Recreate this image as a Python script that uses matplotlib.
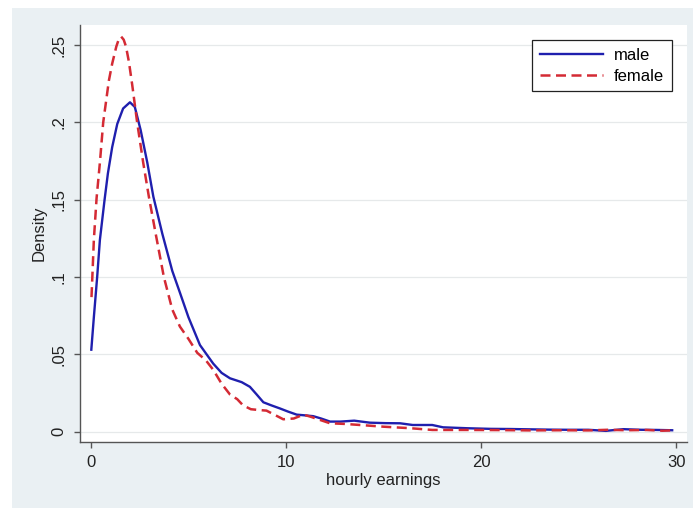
#!/usr/bin/env python
"""
Kernel density of hourly earnings by sex (Stata-style look).
"""

import matplotlib.pyplot as plt
from matplotlib.patches import Rectangle

plt.rcParams['font.family'] = ['Liberation Sans', 'DejaVu Sans']

# Density curves
male_x = [0.02, 0.15, 0.32, 0.46, 0.70, 0.87, 1.09, 1.35, 1.65, 2.0, 2.25, 2.55,
          2.89, 3.2, 3.66, 4.17, 4.56, 5.0, 5.59, 6.27, 6.7, 7.13, 7.73, 8.15,
          8.5, 8.84, 9.25, 9.69, 10.1, 10.55, 11.0, 11.4, 11.8, 12.26, 12.8,
          13.5, 14.3, 15.1, 15.85, 16.5, 17.5, 18.05, 19.3, 20.5, 21.5, 22.5,
          23.5, 24.5, 25.5, 26.4, 27.3, 28.2, 29.0, 29.8]
male_y = [0.053, 0.074, 0.100, 0.124, 0.150, 0.167, 0.184, 0.199, 0.209, 0.213,
          0.210, 0.195, 0.174, 0.152, 0.128, 0.104, 0.090, 0.074, 0.056, 0.044,
          0.038, 0.0345, 0.032, 0.029, 0.024, 0.019, 0.017, 0.015, 0.013, 0.011,
          0.0105, 0.010, 0.0085, 0.0065, 0.0065, 0.0071, 0.0058, 0.0055, 0.0054,
          0.0043, 0.0043, 0.0028, 0.0022, 0.0018, 0.0017, 0.0015, 0.0013, 0.0012,
          0.0012, 0.0005, 0.0016, 0.0012, 0.0011, 0.0009]

female_x = [0.03, 0.15, 0.29, 0.46, 0.63, 0.92, 1.09, 1.3, 1.42, 1.55, 1.68, 1.8,
            1.95, 2.12, 2.37, 2.68, 2.97, 3.32, 3.74, 4.17, 4.56, 5.0, 5.45, 5.9,
            6.27, 6.7, 7.13, 7.5, 7.8, 8.2, 8.6, 9.0, 9.4, 9.86, 10.4, 10.9, 11.3,
            11.74, 12.26, 13.0, 13.8, 15.0, 16.4, 17.5, 19.3, 21.0, 22.5, 24.0,
            25.5, 26.5, 27.5, 28.5, 29.3, 29.8]
female_y = [0.087, 0.124, 0.151, 0.174, 0.200, 0.227, 0.238, 0.249, 0.2535, 0.2555,
            0.2535, 0.249, 0.239, 0.224, 0.200, 0.174, 0.152, 0.128, 0.100, 0.079,
            0.068, 0.060, 0.051, 0.046, 0.040, 0.031, 0.024, 0.021, 0.017, 0.0145,
            0.014, 0.0136, 0.011, 0.008, 0.0085, 0.011, 0.0095, 0.0076, 0.0054,
            0.0050, 0.0043, 0.0032, 0.0022, 0.0011, 0.0011, 0.0010, 0.0008, 0.0009,
            0.0008, 0.0012, 0.0009, 0.0011, 0.0006, 0.0008]

x_ticks = [0, 10, 20, 30]
y_ticks = [0, 0.05, 0.1, 0.15, 0.2, 0.25]
y_tick_labels = ['0', '.05', '.1', '.15', '.2', '.25']

fig = plt.figure(figsize=(6.93, 5.08), dpi=100)
fig.patch.set_facecolor('white')

# Light graph-region background
fig.patches.append(Rectangle((12 / 693, 0), 1 - 12 / 693, 1 - 8 / 508,
                             transform=fig.transFigure, facecolor='#eaf0f3',
                             edgecolor='none', zorder=-10))

ax = fig.add_axes([80 / 693, 1 - 442 / 508, 607 / 693, 417 / 508])
ax.set_zorder(1)
ax.set_facecolor('white')

ax.plot(male_x, male_y, color='#1f1fae', linewidth=1.7, label='male')
ax.plot(female_x, female_y, color='#d42a34', linewidth=1.8,
        linestyle=(0, (4, 2.2)), label='female')

ax.set_xlim(-0.56, 30.56)
ax.set_ylim(-0.0067, 0.263)
ax.set_xticks(x_ticks)
ax.set_yticks(y_ticks)
ax.set_yticklabels(y_tick_labels, rotation=90, va='center')

ax.grid(axis='y', color='#e6e9ea', linewidth=0.9)
ax.set_axisbelow(True)

for side in ['top', 'right']:
    ax.spines[side].set_visible(False)
for side in ['left', 'bottom']:
    ax.spines[side].set_color('#555555')
    ax.spines[side].set_linewidth(1.0)

ax.tick_params(axis='both', colors='#555555', length=4.5, width=1.0,
               labelsize=12, labelcolor='#222222', pad=5)

ax.set_xlabel('hourly earnings', fontsize=12, color='#222222', labelpad=2)
ax.set_ylabel('Density', fontsize=12, color='#222222', labelpad=4)

leg = ax.legend(loc='upper right', bbox_to_anchor=(0.9885, 0.983),
                fontsize=12, fancybox=False, framealpha=1, edgecolor='#222222',
                handlelength=3.8, handletextpad=0.65, borderpad=0.45,
                labelspacing=0.35)
leg.get_frame().set_linewidth(0.9)

fig.savefig('out.png', dpi=100)
